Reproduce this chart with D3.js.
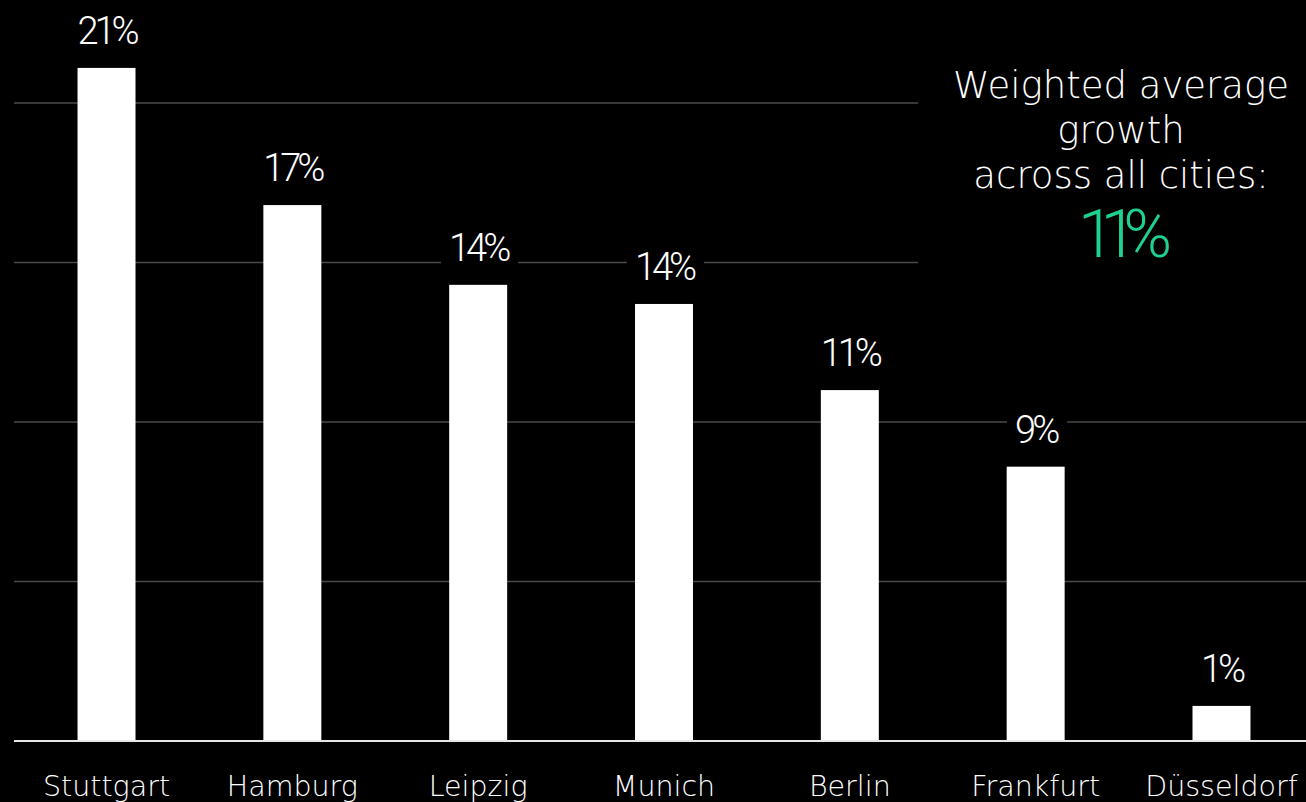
<!DOCTYPE html>
<html>
<head>
<meta charset="utf-8">
<script src="https://cdn.jsdelivr.net/npm/d3@7"></script>
<style>
  html, body { margin: 0; padding: 0; background: #000; overflow: hidden; }
  svg { display: block; font-family: "DejaVu Sans", Lato, sans-serif; }
  .num { font-family: Roboto, "Noto Sans", sans-serif; }
</style>
</head>
<body>
<script>
// city growth data
var cities = ["Stuttgart", "Hamburg", "Leipzig", "Munich", "Berlin", "Frankfurt", "Düsseldorf"];
var growth = [21.1, 16.8, 14.3, 13.7, 11.0, 8.6, 1.1];
var gridTicks = [5, 10, 15, 20];
var noteLines = ["Weighted average", "growth", "across all cities:"];
var noteValue = "11%";

var width = 1306, height = 802;

var svg = d3.select("body")
    .append("svg")
    .attr("width", width)
    .attr("height", height);

svg.append("rect").attr("width", width).attr("height", height).attr("fill", "#000");

var x = d3.scaleBand()
    .domain(cities)
    .range([13.6, 1314.4])
    .paddingInner(0.688)
    .paddingOuter(0.344);

var y = d3.scaleLinear()
    .domain([0, 20])
    .range([741, 103]);

// gridlines
svg.append("g")
    .selectAll("line")
    .data(gridTicks)
    .enter().append("line")
    .attr("x1", 14)
    .attr("x2", width)
    .attr("y1", d => y(d))
    .attr("y2", d => y(d))
    .attr("stroke", "#4a4a4a")
    .attr("stroke-width", 1.5);

// bars
svg.append("g")
    .selectAll("rect")
    .data(growth)
    .enter().append("rect")
    .attr("x", (d, i) => x(cities[i]))
    .attr("y", d => y(d))
    .attr("width", x.bandwidth())
    .attr("height", d => y(0) - y(d))
    .attr("fill", "#fff");

// baseline
svg.append("line")
    .attr("x1", 14).attr("x2", width)
    .attr("y1", y(0)).attr("y2", y(0))
    .attr("stroke", "#e6e6e6")
    .attr("stroke-width", 2);

// value labels with a black box behind them (cuts the gridlines)
var labels = svg.append("g")
    .selectAll("g")
    .data(growth)
    .enter().append("g")
    .attr("transform", (d, i) => `translate(${x(cities[i]) + x.bandwidth() / 2},${y(d) - 24})`);

labels.append("text")
    .attr("class", "num")
    .attr("text-anchor", "middle")
    .attr("fill", "#fff")
    .attr("font-size", "38px")
    .attr("font-weight", 300)
    .attr("letter-spacing", "-4px")
    .text(d => Math.round(d) + "%");

labels.each(function () {
    var g = d3.select(this);
    var b = g.select("text").node().getBBox();
    g.insert("rect", "text")
        .attr("x", b.x - 8)
        .attr("y", b.y)
        .attr("width", b.width + 16)
        .attr("height", b.height)
        .attr("fill", "#000");
});

// city names
svg.append("g")
    .selectAll("text")
    .data(cities)
    .enter().append("text")
    .attr("x", d => x(d) + x.bandwidth() / 2)
    .attr("y", 796)
    .attr("text-anchor", "middle")
    .attr("fill", "#fff")
    .attr("font-size", "28.5px")
    .attr("font-weight", 200)
    .text(d => d);

// annotation box on the right
var note = svg.append("g");
note.append("rect")
    .attr("x", 918).attr("y", 55)
    .attr("width", width - 918).attr("height", 215)
    .attr("fill", "#000");

note.selectAll("text.line")
    .data(noteLines)
    .enter().append("text")
    .attr("class", "line")
    .attr("x", 1121)
    .attr("y", (d, i) => 98 + i * 45)
    .attr("text-anchor", "middle")
    .attr("fill", "#fff")
    .attr("font-size", "37px")
    .attr("font-weight", 200)
    .text(d => d);

note.append("text")
    .attr("class", "num")
    .attr("x", 1118)
    .attr("y", 257)
    .attr("text-anchor", "middle")
    .attr("fill", "#1fd18f")
    .attr("font-size", "66px")
    .attr("font-weight", 300)
    .attr("letter-spacing", "-14px")
    .text(noteValue);
</script>
</body>
</html>
